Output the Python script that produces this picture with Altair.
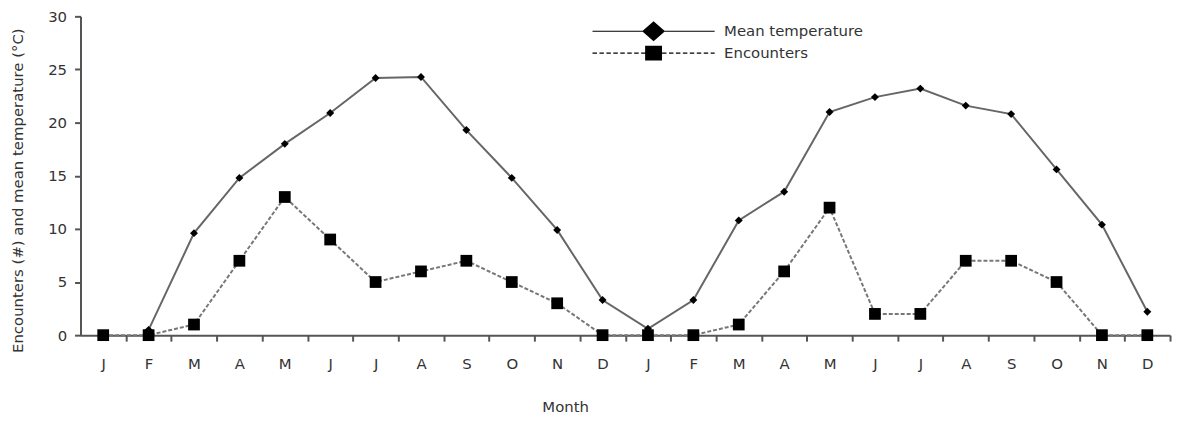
import json
import altair as alt
import pandas as pd

months = ["J", "F", "M", "A", "M", "J", "J", "A", "S", "O", "N", "D",
          "J", "F", "M", "A", "M", "J", "J", "A", "S", "O", "N", "D"]
temperature = [None, 0.5, 9.6, 14.8, 18.0, 20.9, 24.2, 24.3, 19.3, 14.8, 9.9, 3.3,
               0.6, 3.3, 10.8, 13.5, 21.0, 22.4, 23.2, 21.6, 20.8, 15.6, 10.4, 2.2]
encounters = [0, 0, 1, 7, 13, 9, 5, 6, 7, 5, 3, 0,
              0, 0, 1, 6, 12, 2, 2, 7, 7, 5, 0, 0]
series_names = ["Mean temperature", "Encounters"]
y_ticks = [0, 5, 10, 15, 20, 25, 30]

rows = []
for i, m in enumerate(months):
    if temperature[i] is not None:
        rows.append({"idx": i, "month": m, "series": series_names[0], "value": temperature[i]})
    rows.append({"idx": i, "month": m, "series": series_names[1], "value": encounters[i]})
df = pd.DataFrame(rows)
leg_df = pd.DataFrame({"series": series_names})

FONT = "DejaVu Sans"
AX = "#555555"
TXT = "#333333"


# legend symbols (units = 10 px at symbol size 400)
def rect(x0, x1, y0, y1):
    return f"M{x0:.3f},{y0:.3f}L{x1:.3f},{y0:.3f}L{x1:.3f},{y1:.3f}L{x0:.3f},{y1:.3f}Z"


half = 6.15
path_temp = rect(-half, half, -0.06, 0.06) + "M0,-1L1.15,0L0,1L-1.15,0Z"
dash_parts = []
x0 = -half
while x0 < half:
    dash_parts.append(rect(x0, min(x0 + 0.45, half), -0.06, 0.06))
    x0 += 0.7
path_enc = "".join(dash_parts) + rect(-0.85, 0.85, -0.75, 0.75)

x_enc = alt.X(
    "idx:Q",
    scale=alt.Scale(domain=[-0.5, 23.5], nice=False, zero=False),
    axis=alt.Axis(
        values=[i + 0.5 for i in range(len(months))],
        labelExpr=f"{json.dumps(months)}[floor(datum.value)]",
        labelOffset=-22.85,
        tickSize=6, tickWidth=2, tickColor=AX,
        domainColor=AX, domainWidth=2,
        labelPadding=16, labelFontSize=15, labelFont=FONT, labelColor=TXT,
        labelOverlap=False, labelBound=False, labelFlush=False,
        grid=False,
        titleX=488, titleY=72, titleBaseline="middle", titleAlign="center",
        titleFontSize=15, titleFont=FONT, titleFontWeight="normal", titleColor=TXT,
    ),
    title="Month",
)
y_enc = alt.Y(
    "value:Q",
    scale=alt.Scale(domain=[0, 30], nice=False, zero=True),
    axis=alt.Axis(
        values=y_ticks,
        tickSize=6, tickWidth=2, tickColor=AX,
        domainColor=AX, domainWidth=2,
        labelPadding=8, labelFontSize=15, labelFont=FONT, labelColor=TXT,
        grid=False,
        titleX=-63, titleY=175, titleBaseline="middle", titleAlign="center",
        titleFontSize=15, titleFont=FONT, titleFontWeight="normal", titleColor=TXT,
    ),
    title="Encounters (#) and mean temperature (°C)",
)

base = alt.Chart(df)
temp_data = base.transform_filter(alt.datum.series == series_names[0])
enc_data = base.transform_filter(alt.datum.series == series_names[1])

enc_line = enc_data.mark_line(color="#777777", strokeWidth=2, strokeDash=[4, 2]).encode(x=x_enc, y=y_enc)
temp_line = temp_data.mark_line(color="#666666", strokeWidth=2).encode(x=x_enc, y=y_enc)
enc_pts = enc_data.mark_square(color="black", size=140, opacity=1).encode(x=x_enc, y=y_enc)
temp_pts = temp_data.mark_point(shape="diamond", filled=True, color="black", size=64, opacity=1).encode(x=x_enc, y=y_enc)

legend_layer = alt.Chart(leg_df).mark_point(filled=True, color="black", opacity=1, size=400, clip=True).encode(
    x=alt.value(-2000),
    y=alt.value(-2000),
    shape=alt.Shape(
        "series:N",
        scale=alt.Scale(domain=series_names, range=[path_temp, path_enc]),
        legend=alt.Legend(
            orient="none", legendX=567, legendY=5, title=None,
            symbolSize=400, symbolStrokeWidth=0, symbolFillColor="black",
            labelOffset=61, labelFontSize=15, labelFont=FONT, labelColor=TXT,
            labelLimit=400, rowPadding=2, padding=0,
        ),
    ),
)

chart = alt.layer(enc_line, temp_line, enc_pts, temp_pts, legend_layer).properties(
    width=1097,
    height=321,
    autosize=alt.AutoSizeParams(type="none"),
    padding={"left": 73, "top": 7, "right": 4, "bottom": 82},
    background="white",
).configure_view(stroke=None)

chart.save("out.html", embed_options={"renderer": "svg", "actions": False})
